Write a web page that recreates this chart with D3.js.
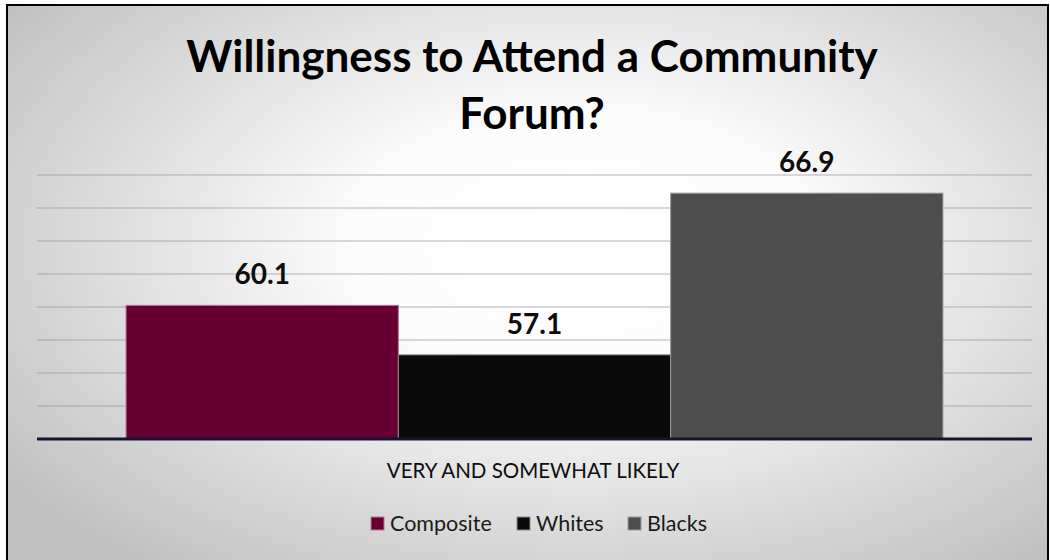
<!DOCTYPE html>
<html>
<head>
<meta charset="utf-8">
<script src="https://cdn.jsdelivr.net/npm/d3@7"></script>
<style>
  body { margin: 0; background: #fff; }
  svg { display: block; font-family: Lato, "Open Sans", sans-serif; }
</style>
</head>
<body>
<svg id="chart" width="1050" height="560"></svg>
<script>
// chart data
const titleLines = ["Willingness to Attend a Community", "Forum?"]
const category = "VERY AND SOMEWHAT LIKELY"
const series = ["Composite", "Whites", "Blacks"]
const values = [60.1, 57.1, 66.9]
const seriesColors = ["#660033", "#0a0a0a", "#4d4d4d"]
const seriesStrokes = ["#b07a94", "#8a8a8a", "#9a9a9a"]
const yDomain = [52, 68]

const width = 1050, height = 560
const svg = d3.select("#chart")

// background gradient
const defs = svg.append("defs")
const grad = defs.append("radialGradient")
  .attr("id", "bg")
  .attr("cx", "55%").attr("cy", "40%").attr("r", "68%")
grad.append("stop").attr("offset", "0%").attr("stop-color", "#ffffff")
grad.append("stop").attr("offset", "32%").attr("stop-color", "#fcfcfc")
grad.append("stop").attr("offset", "100%").attr("stop-color", "#c0c0c0")

svg.append("rect")
  .attr("x", 7).attr("y", 5)
  .attr("width", 1041).attr("height", 600)
  .attr("fill", "url(#bg)")
  .attr("stroke", "#000")
  .attr("stroke-width", 2)

// scales
const plotLeft = 37, plotRight = 1032
const x = d3.scaleBand()
  .domain(series)
  .range([plotLeft, plotRight])
  .paddingInner(0)
  .paddingOuter(0.327)

const y = d3.scaleLinear()
  .domain(yDomain)
  .range([439, 175])

// gridlines
svg.append("g")
  .selectAll("line")
  .data(y.ticks(8).filter(d => d > yDomain[0]))
  .enter()
  .append("line")
    .attr("x1", plotLeft).attr("x2", plotRight)
    .attr("y1", d => y(d)).attr("y2", d => y(d))
    .attr("stroke", "#8e8ea0")
    .attr("stroke-opacity", 0.45)
    .attr("stroke-width", 1.5)

// bars
const data = series.map((s, i) => ({ name: s, value: values[i], color: seriesColors[i], stroke: seriesStrokes[i] }))

svg.append("g")
  .selectAll("rect")
  .data(data)
  .enter()
  .append("rect")
    .attr("x", d => x(d.name))
    .attr("y", d => y(d.value))
    .attr("width", x.bandwidth())
    .attr("height", d => y(yDomain[0]) - y(d.value))
    .attr("fill", d => d.color)
    .attr("stroke", d => d.stroke)
    .attr("stroke-width", 1)

// baseline
svg.append("line")
  .attr("x1", plotLeft).attr("x2", plotRight)
  .attr("y1", y(yDomain[0])).attr("y2", y(yDomain[0]))
  .attr("stroke", "#141432")
  .attr("stroke-width", 3)

// value labels
svg.append("g")
  .selectAll("text")
  .data(data)
  .enter()
  .append("text")
    .attr("x", d => x(d.name) + x.bandwidth() / 2)
    .attr("y", d => y(d.value) - 21)
    .attr("text-anchor", "middle")
    .style("font-size", "28px")
    .style("font-weight", "bold")
    .style("fill", "#0d0d0d")
    .text(d => d.value.toFixed(1))

// title
svg.append("g")
  .selectAll("text")
  .data(titleLines)
  .enter()
  .append("text")
    .attr("x", 532)
    .attr("y", (d, i) => 72 + i * 57)
    .attr("text-anchor", "middle")
    .style("font-size", "44px")
    .style("font-weight", "bold")
    .style("fill", "#000")
    .text(d => d)

// category label
svg.append("text")
  .attr("x", 533)
  .attr("y", 478)
  .attr("text-anchor", "middle")
  .style("font-size", "20.5px")
  .style("fill", "#0d0d0d")
  .text(category)

// legend
const legendX = [371, 517, 628]
const legend = svg.append("g")
  .selectAll("g")
  .data(data)
  .enter()
  .append("g")
    .attr("transform", (d, i) => "translate(" + legendX[i] + ",517)")

legend.append("rect")
  .attr("width", 13).attr("height", 13)
  .attr("fill", d => d.color)
  .attr("stroke", d => d.stroke)
  .attr("stroke-width", 1)

legend.append("text")
  .attr("x", 19)
  .attr("y", 14)
  .style("font-size", "21.5px")
  .style("fill", "#1a1a1a")
  .text(d => d.name)
</script>
</body>
</html>
